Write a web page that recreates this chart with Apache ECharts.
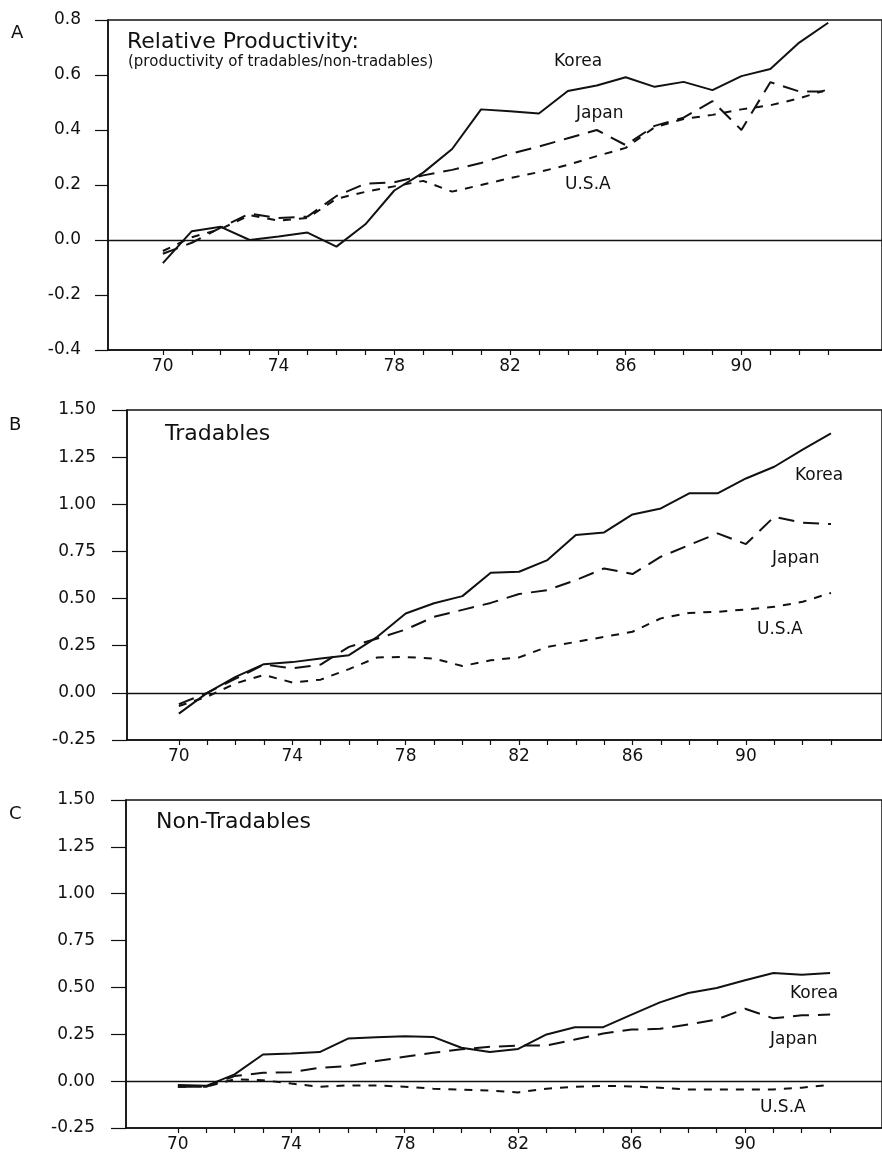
<!DOCTYPE html>
<html><head><meta charset="utf-8">
<script src="https://cdn.jsdelivr.net/npm/echarts@6/dist/echarts.min.js"></script>
<style>html,body{margin:0;padding:0;background:#fff}#c{width:882px;height:1157px}</style>
</head><body><div id="c"></div>
<script>
// ---- data (years 1970-1993) ----
const years = [70,71,72,73,74,75,76,77,78,79,80,81,82,83,84,85,86,87,88,89,90,91,92,93];
const xTickYears = [70,71,72,73,74,75,76,77,78,79,80,81,82,83,84,85,86,87,88,89,90,91,92,93];
const xLabelYears = [70,74,78,82,86,90];

// A: Relative productivity (tradables / non-tradables)
const relKorea = [-0.084,0.032,0.048,0.0,0.013,0.027,-0.024,0.057,0.18,0.245,0.331,0.475,0.468,0.46,0.542,0.562,0.592,0.557,0.575,0.545,0.596,0.622,0.718,0.79];
const relJapan = [-0.05,-0.01,0.045,0.096,0.08,0.085,0.16,0.205,0.21,0.235,0.255,0.28,0.313,0.34,0.37,0.40,0.345,0.415,0.445,0.505,0.40,0.574,0.54,0.54];
const relUSA   = [-0.04,0.01,0.04,0.09,0.07,0.08,0.15,0.175,0.195,0.215,0.176,0.2,0.225,0.247,0.273,0.305,0.335,0.41,0.44,0.455,0.475,0.49,0.515,0.548];

// B: Tradables
const trdKorea = [-0.11,0.0,0.085,0.152,0.163,0.182,0.2,0.297,0.421,0.475,0.513,0.637,0.642,0.704,0.837,0.851,0.946,0.978,1.058,1.058,1.137,1.199,1.29,1.376];
const trdJapan = [-0.06,0.0,0.075,0.15,0.13,0.15,0.244,0.288,0.336,0.403,0.44,0.477,0.524,0.545,0.598,0.66,0.63,0.722,0.784,0.846,0.789,0.934,0.902,0.895];
const trdUSA   = [-0.07,-0.02,0.05,0.095,0.055,0.07,0.126,0.188,0.19,0.182,0.142,0.173,0.188,0.244,0.27,0.297,0.324,0.395,0.424,0.43,0.442,0.456,0.483,0.53];

// C: Non-tradables
const ntKorea = [-0.02,-0.025,0.036,0.142,0.147,0.155,0.227,0.234,0.24,0.236,0.178,0.155,0.172,0.249,0.288,0.288,0.355,0.42,0.47,0.497,0.538,0.577,0.568,0.577];
const ntJapan = [-0.03,-0.03,0.027,0.045,0.048,0.071,0.08,0.107,0.13,0.151,0.17,0.183,0.19,0.19,0.222,0.254,0.275,0.279,0.302,0.329,0.386,0.335,0.351,0.355];
const ntUSA   = [-0.03,-0.03,0.01,0.005,-0.013,-0.03,-0.023,-0.023,-0.03,-0.04,-0.045,-0.05,-0.06,-0.04,-0.03,-0.025,-0.028,-0.035,-0.044,-0.044,-0.045,-0.044,-0.035,-0.02];

const panelLetters = ['A','B','C'];
const panelTitles = ['Relative Productivity:','Tradables','Non-Tradables'];
const panelSubtitle = '(productivity of tradables/non-tradables)';
const countryNames = ['Korea','Japan','U.S.A'];

// ---- chart ----
const FONT = '"DejaVu Sans", "Liberation Sans", sans-serif';
const INK = '#111';
const pair = arr => years.map((y, i) => [y, arr[i]]);

const grids = [
  {left:108, top:20,  width:776, height:330},
  {left:127, top:410, width:757, height:330},
  {left:126, top:800, width:758, height:328}
].map(g => Object.assign(g, {show:true, borderColor:INK, borderWidth:1.5, backgroundColor:'transparent', containLabel:false}));

const xRanges = [[68.103, 94.86],[68.171, 94.80],[68.171, 94.83]];
const xAxes = xRanges.map((r, i) => ({
  type:'value', gridIndex:i, min:r[0], max:r[1],
  axisLine:{show:true, onZero:false, lineStyle:{color:INK, width:1.5}},
  axisTick:{show:true, length:5, inside:false, customValues:xTickYears, lineStyle:{color:INK, width:1.2}},
  axisLabel:{show:true, customValues:xLabelYears, margin:8, color:INK, fontFamily:FONT, fontSize:17,
             formatter: v => String(v)},
  splitLine:{show:false}
}));

const yAxes = [
  {min:-0.4, max:0.8, interval:0.2, dec:1, tick:13, margin:27},
  {min:-0.25, max:1.5, interval:0.25, dec:2, tick:15, margin:31},
  {min:-0.25, max:1.5, interval:0.25, dec:2, tick:15, margin:31}
].map((a, i) => ({
  type:'value', gridIndex:i, min:a.min, max:a.max, interval:a.interval,
  axisLine:{show:true, lineStyle:{color:INK, width:1.5}},
  axisTick:{show:true, length:a.tick, inside:false, lineStyle:{color:INK, width:1.2}},
  axisLabel:{show:true, margin:a.margin, color:INK, fontFamily:FONT, fontSize:17,
             formatter: v => v.toFixed(a.dec)},
  splitLine:{show:false}
}));

const styles = [
  {type:'solid'},
  {type:[16,9]},
  {type:[8,8]}
];
const panelData = [[relKorea, relJapan, relUSA],[trdKorea, trdJapan, trdUSA],[ntKorea, ntJapan, ntUSA]];
const series = [];
panelData.forEach((set, p) => {
  set.forEach((arr, k) => {
    const s = {
      type:'line', name: countryNames[k] + ' ' + panelLetters[p],
      xAxisIndex:p, yAxisIndex:p, data: pair(arr),
      showSymbol:false, symbol:'none', smooth:false,
      lineStyle:{color:INK, width:2, type:styles[k].type},
      emphasis:{disabled:true}, z:3
    };
    if (k === 0) {
      s.markLine = {silent:true, symbol:'none', label:{show:false},
        lineStyle:{color:INK, width:1.3, type:'solid'}, data:[{yAxis:0}], z:2};
    }
    series.push(s);
  });
});

function txt(text, x, y, size) {
  return {type:'text', x:x, y:y, silent:true, z:10,
    style:{text:text, fill:INK, font: size + 'px ' + FONT, align:'left', verticalAlign:'middle'}};
}
const graphics = [
  txt(panelLetters[0], 11, 33, 18),
  txt(panelLetters[1], 9, 425, 18),
  txt(panelLetters[2], 9, 814, 18),
  txt(panelTitles[0], 127, 42, 22),
  txt(panelSubtitle, 128, 62, 15),
  txt(panelTitles[1], 165, 434, 22),
  txt(panelTitles[2], 156, 822, 22),
  txt(countryNames[0], 554, 62, 17),
  txt(countryNames[1], 576, 114, 17),
  txt(countryNames[2], 565, 185, 17),
  txt(countryNames[0], 795, 476, 17),
  txt(countryNames[1], 772, 559, 17),
  txt(countryNames[2], 757, 630, 17),
  txt(countryNames[0], 790, 994, 17),
  txt(countryNames[1], 770, 1040, 17),
  txt(countryNames[2], 760, 1108, 17)
];

const chart = echarts.init(document.getElementById('c'), null, {renderer:'canvas'});
chart.setOption({
  animation:false,
  backgroundColor:'#fff',
  grid:grids, xAxis:xAxes, yAxis:yAxes, series:series, graphic:graphics
});
</script></body></html>
